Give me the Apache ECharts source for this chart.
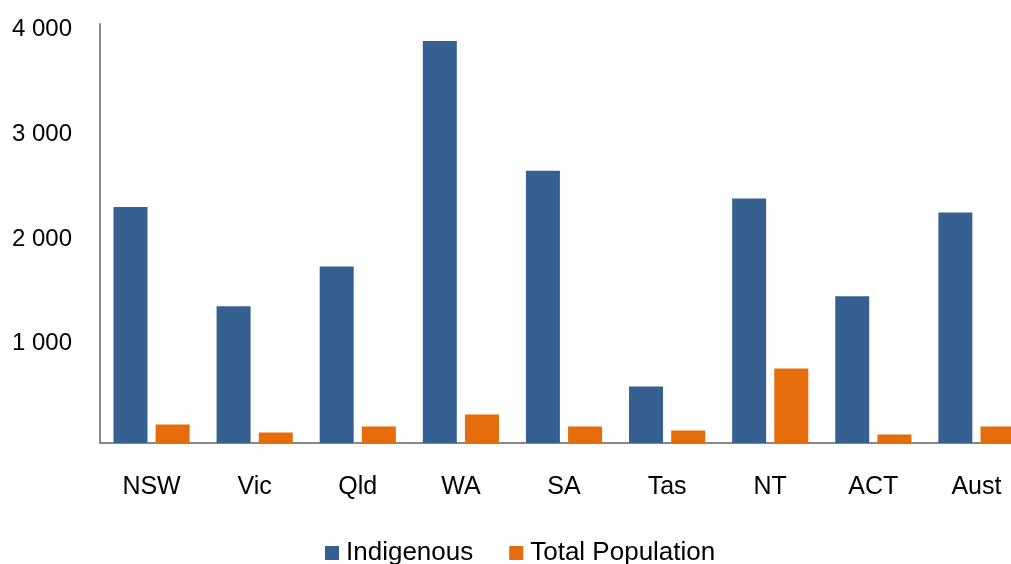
<!DOCTYPE html>
<html>
<head>
<meta charset="utf-8">
<script src="https://cdn.jsdelivr.net/npm/echarts@6/dist/echarts.min.js"></script>
<style>
  html, body { margin: 0; padding: 0; background: #ffffff; }
  #chart { width: 1011px; height: 564px; }
</style>
</head>
<body>
<div id="chart"></div>
<script>
// States / territories and the national total
const categories = ['NSW', 'Vic', 'Qld', 'WA', 'SA', 'Tas', 'NT', 'ACT', 'Aust'];

// Rates for each population group
const indigenous = [2254, 1305, 1684, 3838, 2598, 540, 2334, 1400, 2200];
const totalPopulation = [177, 100, 158, 272, 158, 119, 712, 81, 158];

const seriesNames = ['Indigenous', 'Total Population'];

// Value-axis ticks
const yTicks = [0, 1000, 2000, 3000, 4000];

const FONT = '"Liberation Sans", Arial, sans-serif';

function formatThousands(v) {
  if (v === 0) return '';
  return String(v).replace(/\B(?=(\d{3})+(?!\d))/g, ' ');
}

const chart = echarts.init(document.getElementById('chart'), null, { renderer: 'canvas' });

chart.setOption({
  animation: false,
  backgroundColor: '#ffffff',
  textStyle: { fontFamily: FONT },
  grid: {
    left: 100,
    right: -17,
    top: 24,
    bottom: 121,
    containLabel: false,
    outerBoundsMode: 'none'
  },
  legend: {
    data: seriesNames,
    left: 325,
    top: 540,
    padding: 0,
    itemWidth: 14,
    itemHeight: 14,
    itemGap: 36,
    icon: 'rect',
    textStyle: {
      fontFamily: FONT,
      fontSize: 26,
      color: '#000000',
      padding: [0, 0, 0, 2]
    }
  },
  xAxis: {
    type: 'category',
    data: categories,
    axisLine: { show: true, lineStyle: { color: '#888888', width: 2 } },
    axisTick: { show: false },
    axisLabel: {
      margin: 32,
      fontFamily: FONT,
      fontSize: 25,
      color: '#000000'
    },
    splitLine: { show: false }
  },
  yAxis: {
    type: 'value',
    min: yTicks[0],
    max: yTicks[yTicks.length - 1],
    interval: yTicks[1] - yTicks[0],
    axisLine: { show: true, lineStyle: { color: '#888888', width: 2 } },
    axisTick: { show: false },
    splitLine: { show: false },
    axisLabel: {
      margin: 28,
      verticalAlign: 'top',
      lineHeight: 11,
      fontFamily: FONT,
      fontSize: 24,
      color: '#000000',
      formatter: formatThousands
    }
  },
  series: [
    {
      name: seriesNames[0],
      type: 'bar',
      data: indigenous,
      barWidth: 34,
      barGap: '24%',
      itemStyle: { color: '#376092' }
    },
    {
      name: seriesNames[1],
      type: 'bar',
      data: totalPopulation,
      barWidth: 34,
      itemStyle: { color: '#e46c0a' }
    }
  ]
});
</script>
</body>
</html>
